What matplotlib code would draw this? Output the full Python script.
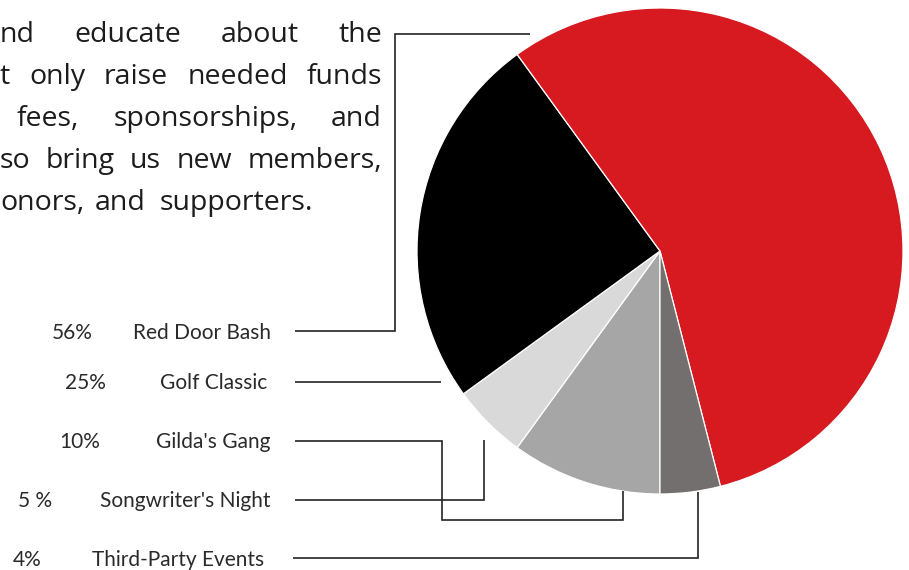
import matplotlib
matplotlib.use('Agg')
import matplotlib.pyplot as plt

# ---- data ----
segments = ["Gilda's Gang", "Songwriter's Night", "Golf Classic", "Red Door Bash", "Third-Party Events"]
shares = [10, 5, 25, 56, 4]
colors = ['#a6a6a6', '#d9d9d9', '#000000', '#d71920', '#736f6e']

label_names = ["Red Door Bash", "Golf Classic", "Gilda's Gang", "Songwriter's Night", "Third-Party Events"]
label_pcts = ["56%", "25%", "10%", "5 %", "4%"]

body_lines = [
    ["nd", "educate", "about", "the"],
    ["t", "only", "raise", "needed", "funds"],
    ["fees,", "sponsorships,", "and"],
    ["so", "bring", "us", "new", "members,"],
    ["onors,", "and", "supporters."],
]

# ---- layout (pixel coordinates) ----
W, H = 909, 570
fig = plt.figure(figsize=(W / 100, H / 100), dpi=100)
ax = fig.add_axes([0, 0, 1, 1])

ax.pie(shares, colors=colors, startangle=90, counterclock=True,
       center=(660, 251), radius=243,
       wedgeprops=dict(edgecolor='white', linewidth=0.9))
ax.set_xlim(0, W)
ax.set_ylim(H, 0)
ax.set_aspect('equal')
ax.axis('off')

body_font = dict(family='Open Sans', fontsize=20.5, color='#1c1c1c')
line_base = [42, 84, 126, 168, 210]
line_x0 = [0, 0, 17, 0, 0]
justify = [True, True, True, True, False]
last_line_x = [0, 95, 160]
right_edge = 382

fig.canvas.draw()
renderer = fig.canvas.get_renderer()

def width_px(txt):
    t = ax.text(0, 0, txt, **body_font)
    bb = t.get_window_extent(renderer=renderer)
    t.remove()
    return bb.width

for words, y, x0, just in zip(body_lines, line_base, line_x0, justify):
    if just:
        ws = [width_px(w) for w in words]
        gap = (right_edge - x0 - sum(ws)) / (len(words) - 1)
        x = x0
        for w, wd in zip(words, ws):
            ax.text(x, y, w, ha='left', va='baseline', **body_font)
            x += wd + gap
    else:
        for w, x in zip(words, last_line_x):
            ax.text(x, y, w, ha='left', va='baseline', **body_font)

# labels
lab_font = dict(family='Lato', fontsize=15, color='#2a2a2a')
lab_base = [339, 389, 448, 507, 566]
pct_right = [93, 106, 100, 52, 42]
name_right = [271, 267, 270, 271, 264]
for name, pct, y, pr, nr in zip(label_names, label_pcts, lab_base, pct_right, name_right):
    ax.text(pr, y, pct, ha='right', va='baseline', **lab_font)
    ax.text(nr, y, name, ha='right', va='baseline', **lab_font)

# leader lines
leaders = [
    [(295, 331), (395, 331), (395, 34), (530, 34)],
    [(295, 382), (441, 382)],
    [(295, 441), (442, 441), (442, 520), (623, 520), (623, 491)],
    [(295, 500), (484, 500), (484, 440)],
    [(293, 558), (698, 558), (698, 492)],
]
for pts in leaders:
    xs, ys = zip(*pts)
    ax.plot(xs, ys, color='#222222', lw=1.2, solid_joinstyle='miter', solid_capstyle='butt')

fig.savefig('out.png', dpi=100)
